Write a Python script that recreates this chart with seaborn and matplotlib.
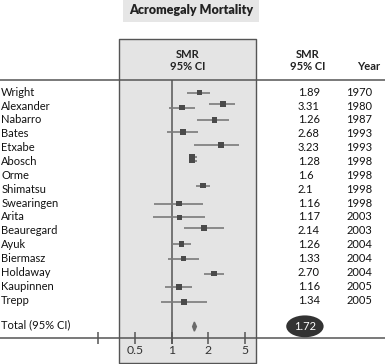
import matplotlib
matplotlib.use("Agg")
import matplotlib.pyplot as plt
import numpy as np
import seaborn as sns

# ---- data ----
studies = ["Wright", "Alexander", "Nabarro", "Bates", "Etxabe", "Abosch", "Orme",
           "Shimatsu", "Swearingen", "Arita", "Beauregard", "Ayuk", "Biermasz",
           "Holdaway", "Kaupinnen", "Trepp"]
smr_labels = ["1.89", "3.31", "1.26", "2.68", "3.23", "1.28", "1.6", "2.1", "1.16",
              "1.17", "2.14", "1.26", "1.33", "2.70", "1.16", "1.34"]
years = ["1970", "1980", "1987", "1993", "1993", "1998", "1998", "1998", "1998",
         "2003", "2003", "2004", "2004", "2004", "2005", "2005"]

# plotted squares (row position, estimate, CI) as drawn in the panel
marker_rows = [0.03, 0.84, 1.11, 2.0, 2.87, 3.8, 4.69, 4.94, 6.74, 8.04, 9.03,
               9.8, 10.95, 12.01, 13.1, 14.06, 15.15]
marker_est = [1.69, 2.91, 1.22, 2.35, 1.24, 2.75, 1.48, 1.48, 1.82, 1.15, 1.16,
              1.85, 1.21, 1.25, 2.31, 1.15, 1.27]
marker_lo = [1.33, 2.06, 0.96, 1.63, 0.91, 1.53, 1.38, 1.38, 1.59, 0.72, 0.71,
             1.27, 1.00, 0.94, 1.85, 0.88, 0.82]
marker_hi = [2.09, 3.93, 1.55, 3.39, 1.66, 4.28, 1.61, 1.61, 2.09, 1.80, 1.89,
             2.97, 1.44, 1.69, 2.97, 1.46, 1.94]

total_label = "1.72"
total_est, total_lo, total_hi = 1.54, 1.49, 1.60

tick_values = [0.25, 0.5, 1, 2, 5]
tick_labels = ["", "0.5", "1", "2", "5"]

# ---- scale: equally spaced 0.5 / 1 / 2 / 5 ----
knots_v = np.array([0.02, 0.25, 0.5, 1, 2, 5, 12.5, 200])
knots_p = np.array([-5.64, -2, -1, 0, 1, 2, 3, 6.03])


def fwd(x):
    x = np.clip(np.asarray(x, dtype=float), 1e-6, None)
    return np.interp(np.log(x), np.log(knots_v), knots_p)


def inv(p):
    return np.exp(np.interp(np.asarray(p, dtype=float), knots_p, np.log(knots_v)))


sns.set_theme(style="white")
plt.rcParams["font.family"] = ["Lato", "DejaVu Sans"]

dark = "#333333"
line_c = "#555555"

fig = plt.figure(figsize=(3.85, 3.64), dpi=100)
ax = fig.add_axes([0, 0, 1, 1])
ax.set_xscale("function", functions=(fwd, inv))
ax.set_xlim(inv(-4.673), inv(5.817))
ax.set_ylim(19.62, -6.66)

# grey panel
ax.fill_betweenx([-3.83, 19.55], 0.373, 6.54, color="#e4e4e4",
                 edgecolor=line_c, linewidth=1, zorder=0)

# header and axis rules
ax.axhline(-0.92, color=line_c, lw=1.1, zorder=1)
ax.vlines(1, -0.92, 18.17, color=line_c, lw=1.1, zorder=1)

# confidence intervals and squares
ax.hlines(marker_rows, marker_lo, marker_hi, color="#7a7a7a", lw=1.2, zorder=2)
sns.scatterplot(x=marker_est, y=marker_rows, marker="s", s=16, color="#4a4a4a",
                edgecolor="none", ax=ax, zorder=3, legend=False)

# pooled diamond
total_row = 16.92
ax.fill([total_lo, total_est, total_hi, total_est],
        [total_row, total_row - 0.33, total_row, total_row + 0.33],
        color="#6a6a6a", zorder=3)

# bottom axis
for side in ["top", "left", "right"]:
    ax.spines[side].set_visible(False)
ax.spines["bottom"].set_position(("data", 17.74))
ax.spines["bottom"].set_color(line_c)
ax.spines["bottom"].set_linewidth(1.1)
ax.set_xticks(tick_values)
ax.set_xticklabels(tick_labels)
ax.xaxis.set_minor_locator(matplotlib.ticker.NullLocator())
ax.tick_params(axis="x", direction="inout", length=8, width=1.1, color=line_c,
               labelsize=8.8, labelcolor=dark, pad=1, bottom=True)
ax.set_yticks([])
ax.set_xlabel("")
ax.set_ylabel("")

tr = ax.get_yaxis_transform()  # x in axes fraction, y in rows
fs = 8

# title
ax.text(0.496, -5.92, "Acromegaly Mortality", transform=tr, ha="center",
        va="center", fontsize=9, fontweight="heavy", color="#222222",
        bbox=dict(boxstyle="square,pad=0.5", fc="#e6e6e6", ec="none"))

# headers
for xf in [0.488, 0.80]:
    ax.text(xf, -2.69, "SMR", transform=tr, ha="center", va="center", fontsize=fs,
            fontweight="bold", color="#222222")
    ax.text(xf, -1.85, "95% CI", transform=tr, ha="center", va="center", fontsize=fs,
            fontweight="bold", color="#222222")
ax.text(0.958, -1.85, "Year", transform=tr, ha="center", va="center", fontsize=fs,
        fontweight="bold", color="#222222")

# study rows
for i, (name, smr, yr) in enumerate(zip(studies, smr_labels, years)):
    ax.text(0.003, i, name, transform=tr, ha="left", va="center", fontsize=fs,
            color="#111111")
    ax.text(0.774, i, smr, transform=tr, ha="left", va="center", fontsize=fs,
            color="#111111")
    ax.text(0.9675, i, yr, transform=tr, ha="right", va="center", fontsize=fs,
            color="#111111")

# total row
ax.text(0.003, 16.8, "Total (95% CI)", transform=tr, ha="left", va="center",
        fontsize=fs, color="#111111")
ax.text(0.792, 16.9, total_label, transform=tr, ha="center", va="center",
        fontsize=fs, color="white",
        bbox=dict(boxstyle="ellipse,pad=0.2", fc="#333333", ec="none"))

fig.savefig("out.png", dpi=100)
